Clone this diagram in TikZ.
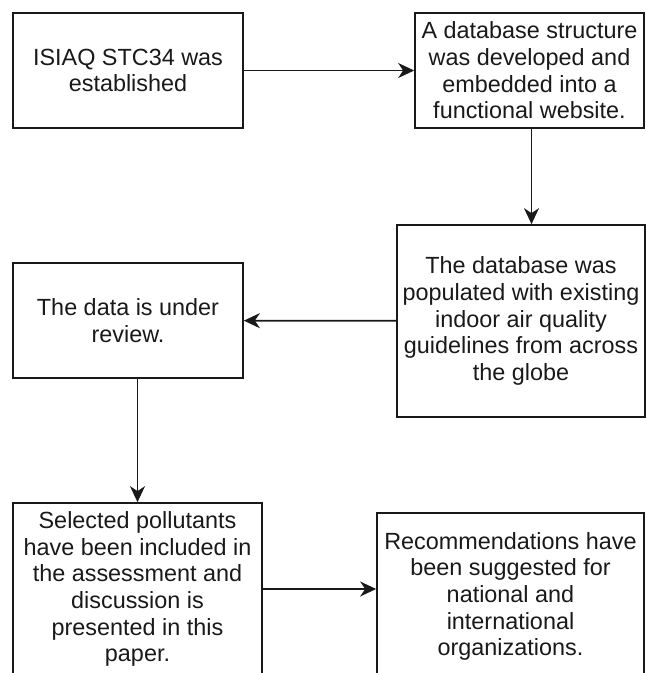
\documentclass[tikz,border=0pt]{standalone}
\usepackage{fontspec}
\setmainfont{Liberation Sans}
\usetikzlibrary{arrows.meta,calc}
\begin{document}
\begin{tikzpicture}[x=1pt,y=-1pt,
  box/.style={draw=black!90, line width=1.7pt, rectangle, inner sep=0pt, align=center,
    font=\fontsize{23.4}{26.7}\selectfont, text=black!90},
  conn/.style={line width=1.7pt, draw=black!90, -{Stealth[length=16pt,width=15pt,inset=5pt]}}]
\useasboundingbox (0,0) rectangle (646,673);
\clip (0,0) rectangle (646,673);
\node[box, minimum width=230pt, minimum height=115pt] (b1) at (128,70.5) {ISIAQ STC34 was\\established};
\node[box, minimum width=229pt, minimum height=115pt] (b2) at (529.5,70.5) {A database structure\\was developed and\\embedded into a\\functional website.};
\node[box, minimum width=248pt, minimum height=192pt] (b3) at (521,321) {The database was\\populated with existing\\indoor air quality\\guidelines from across\\the globe};
\node[box, minimum width=230pt, minimum height=115pt] (b4) at (128,320.5) {The data is under\\review.};
\node[box, minimum width=249pt, minimum height=172pt] (b5) at (137.5,589) {Selected pollutants\\have been included in\\the assessment and\\discussion is\\presented in this\\paper.};
\node[box, minimum width=267pt, minimum height=167pt] (b6) at (510.5,596.5) {Recommendations have\\been suggested for\\national and\\international\\organizations.};
\draw[conn] (b1) -- (b2);
\draw[conn] ([xshift=2pt]b2.south) -- ([xshift=2pt]b2.south |- b3.north);
\draw[conn] (b3) -- (b4);
\draw[conn] (b4.south -| b5.north) -- (b5.north);
\draw[conn] (b5.east) -- (b5.east -| b6.west);
\end{tikzpicture}
\end{document}
